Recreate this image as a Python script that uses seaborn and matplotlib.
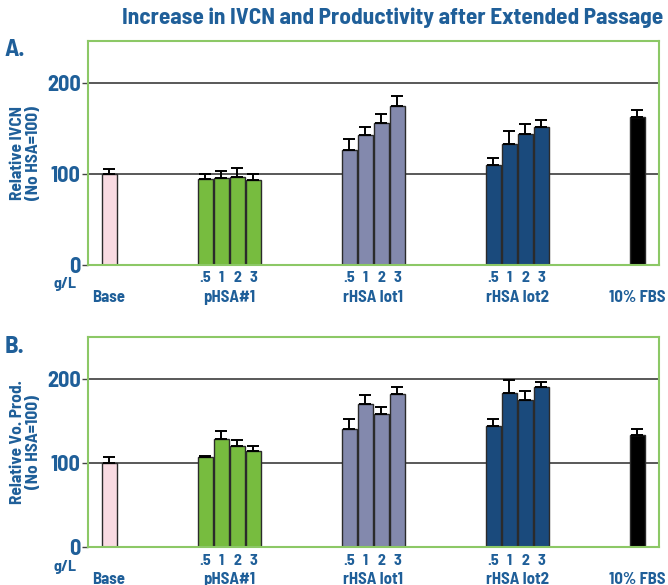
import numpy as np
import pandas as pd
import matplotlib
matplotlib.use('Agg')
import matplotlib.pyplot as plt
import seaborn as sns

sns.set_theme(style='white')
plt.rcParams['font.family'] = ['Barlow Semi Condensed', 'DejaVu Sans']
plt.rcParams['font.weight'] = 'bold'

# 数据
groups = ['Base', 'pHSA#1', 'rHSA lot1', 'rHSA lot2', '10% FBS']
doses = ['.5', '1', '2', '3']
group_colors = ['#f9dbe2', '#77bc3f', '#8389ad', '#1a4a7c', '#000000']

# A. 相对 IVCN
ivcn_mean = [100, 95, 96, 97, 94, 127, 143, 156, 175, 110, 133, 144, 152, 163]
ivcn_err = [6, 5, 8, 10, 6, 12, 9, 10, 11, 8, 15, 11, 8, 8]
# B. 相对体积产率
prod_mean = [100, 107, 129, 120, 115, 141, 170, 158, 182, 144, 183, 175, 190, 133]
prod_err = [7, 2, 9, 8, 5, 12, 11, 9, 9, 9, 16, 11, 7, 8]

blue = '#1f5f99'
green_edge = '#8cc866'

# 柱子位置（每组 4 个浓度）
group_x = [1, 7, 16, 25, 34]
n_per = [1, 4, 4, 4, 1]
pos, grp = [], []
for g, x0, n in zip(groups, group_x, n_per):
    for k in range(n):
        pos.append(x0 + k)
        grp.append(g)


def draw_panel(ax, means, errs, letter, ylabel, ylim_top):
    df = pd.DataFrame({'pos': pos, 'value': means, 'group': grp})
    for y in [100, 200]:
        ax.axhline(y, color='#3c3c3c', lw=1.2, zorder=0)
    sns.barplot(data=df, x='pos', y='value', hue='group', hue_order=groups,
                palette=group_colors, saturation=1, native_scale=True, dodge=False,
                width=0.94, edgecolor='#2b2b2b', linewidth=1.0, errorbar=None,
                legend=False, ax=ax, zorder=2)
    ax.errorbar(pos, means, yerr=[np.zeros(len(errs)), errs], fmt='none',
                ecolor='black', elinewidth=1.4, capsize=4.5, capthick=1.4, zorder=3)
    ax.set_xlim(-0.3, 35.4)
    ax.set_ylim(0, ylim_top)
    ax.set_yticks([0, 100, 200])
    ax.set_yticklabels(['0', '100', '200'], fontsize=16, color=blue, fontweight='bold')
    ax.tick_params(axis='y', length=4.5, width=1, color='#444444', left=True, pad=1)
    ax.set_xticks([])
    ax.set_xlabel('')
    ax.set_ylabel(ylabel, fontsize=12.5, color=blue, fontweight='bold', labelpad=4,
                  linespacing=1.1)
    for s in ax.spines.values():
        s.set_color(green_edge)
        s.set_linewidth(1.5)
    # 浓度与组标签
    for p, g in zip(pos, grp):
        if g in ('Base', '10% FBS'):
            continue
        ax.annotate(doses[(p - group_x[groups.index(g)])], (p, 0), xycoords='data',
                    xytext=(0, -9.5), textcoords='offset points', ha='center', va='center',
                    fontsize=11.5, color=blue, fontweight='bold', annotation_clip=False)
    for g, x0, n in zip(groups, group_x, n_per):
        ax.annotate(g, (x0 + (n - 1) / 2, 0), xycoords='data', xytext=(0, -23.5),
                    textcoords='offset points', ha='center', va='center',
                    fontsize=12, color=blue, fontweight='bold', annotation_clip=False)
    ax.annotate('g/L', (0, 0), xycoords='axes fraction', xytext=(-17, -14),
                textcoords='offset points', ha='center', va='center',
                fontsize=11.5, color=blue, fontweight='bold', annotation_clip=False)
    ax.annotate(letter, (0, 1), xycoords='axes fraction', xytext=(-53, -7),
                textcoords='offset points', ha='center', va='center',
                fontsize=18, color=blue, fontweight='bold', annotation_clip=False)


fig = plt.figure(figsize=(6.68, 5.85), dpi=100)
ax1 = fig.add_axes([0.1322, 0.547, 0.855, 0.3834])
ax2 = fig.add_axes([0.1322, 0.0644, 0.855, 0.359])

draw_panel(ax1, ivcn_mean, ivcn_err, 'A.', 'Relative IVCN\n(No HSA=100)', 247)
draw_panel(ax2, prod_mean, prod_err, 'B.', 'Relative Vo. Prod.\n(No HSA=100)', 249.5)

fig.text(0.588, 0.970, 'Increase in IVCN and Productivity after Extended Passage',
         ha='center', va='center', fontsize=16.8, color=blue, fontweight='bold')

fig.savefig('out.png', dpi=100)
